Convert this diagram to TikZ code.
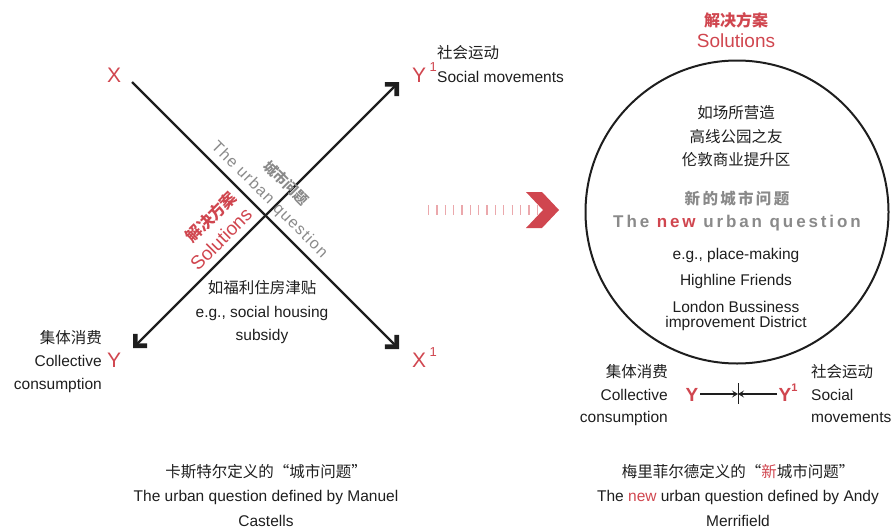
\documentclass[tikz,border=0pt]{standalone}
\usepackage{fontspec}
\setmainfont{Liberation Sans}
\newfontfamily\cjk{Noto Sans CJK SC}
\usetikzlibrary{arrows.meta}
\definecolor{accent}{HTML}{D0464F}
\definecolor{txtgray}{HTML}{8A8A8A}
\definecolor{ink}{HTML}{1E1E1E}
\definecolor{tickpink}{HTML}{EBA8AC}
\newcommand\supone[1][13]{\,\raisebox{0.52em}{\fontsize{#1}{#1}\selectfont 1}}
\begin{document}
\begin{tikzpicture}[x=1pt,y=-1pt,
  lbl/.style={font=\fontsize{15.5}{18}\selectfont, text=ink, inner sep=0pt},
  zh/.style={font=\cjk\fontsize{15.5}{18}\selectfont, text=ink, inner sep=0pt},
  axislbl/.style={font=\fontsize{21}{24}\selectfont, text=accent, inner sep=0pt},
  axisline/.style={line width=2.3pt, draw=ink},
  pics/chevron/.style={code={\fill[ink] (0,0) -- (-10,-10) -- (-13.3,-6.7) -- (-6.6,0) -- (-13.3,6.7) -- (-10,10) -- cycle;}},
]
\useasboundingbox (0,0) rectangle (893,530);

% ---------- left diagram ----------
\coordinate (xs) at (132,82);
\coordinate (xe) at (399,349);
\coordinate (ys) at (133,348);
\coordinate (ye) at (399,82);
\draw[axisline, shorten >=6pt] (xs) -- (xe);
\draw[axisline, shorten >=6pt, shorten <=6pt] (ys) -- (ye);
\pic[rotate=45] at (ye) {chevron};
\pic[rotate=-45] at (xe) {chevron};
\pic[rotate=-135] at (ys) {chevron};

\node[axislbl, anchor=base west] (lx) at (107,82) {X};
\node[axislbl, anchor=base west] (ly1) at (412,82) {Y\supone};
\node[axislbl, anchor=base west] (lx1) at (412,367) {X\supone};
\node[axislbl, anchor=base west] (ly) at (107,367) {Y};

\node[zh, anchor=west] (lsoczh) at (437,53) {社会运动};
\node[lbl, anchor=west] (lsocen) at (437,77) {Social movements};
\node[zh, anchor=east] (lcolzh) at (102,338) {集体消费};
\node[lbl, anchor=east] (lcolen1) at (102,361) {Collective};
\node[lbl, anchor=east] (lcolen2) at (102,385) {consumption};

\node[font=\fontsize{16}{18}\selectfont\addfontfeature{LetterSpace=8}, text=txtgray, rotate=-45, inner sep=0pt] (luq) at (269,200) {The urban question};
\node[font=\cjk\bfseries\fontsize{14}{16}\selectfont, text=txtgray, rotate=-45, inner sep=0pt] (luqzh) at (286,183) {城市问题};
\node[font=\cjk\bfseries\fontsize{16}{18}\selectfont, text=accent, rotate=45, inner sep=0pt] (lsolzh) at (211,217) {解决方案};
\node[font=\fontsize{19}{21}\selectfont, text=accent, rotate=45, inner sep=0pt] (lsolen) at (221,239) {Solutions};

\node[zh] (lhzh) at (262,288) {如福利住房津贴};
\node[lbl] (lh1) at (262,313) {e.g., social housing};
\node[lbl] (lh2) at (262,336) {subsidy};

% ---------- middle arrow ----------
\coordinate (ms) at (428,210);
\coordinate (me) at (540,210);
\draw[tickpink, line width=10pt, dash pattern=on 1.3pt off 7.05pt] (ms) -- (me);
\fill[accent] (526,192) -- (542,192) -- (559,210) -- (542,228) -- (526,228) -- (543,210) -- cycle;

% ---------- right diagram ----------
\node[font=\cjk\bfseries\fontsize{16}{18}\selectfont, text=accent, inner sep=0pt] (rsolzh) at (736,20) {解决方案};
\node[font=\fontsize{19}{21}\selectfont, text=accent, inner sep=0pt] (rsolen) at (736,41) {Solutions};

\node[circle, draw=ink, line width=2pt, minimum size=303pt, inner sep=0pt] (circ) at (737,212) {};

\node[zh] (r1) at (736,113) {如场所营造};
\node[zh] (r2) at (736,137) {高线公园之友};
\node[zh] (r3) at (736,160) {伦敦商业提升区};
\node[font=\cjk\bfseries\fontsize{15.5}{18}\selectfont\addfontfeature{LetterSpace=15}, text=txtgray, inner sep=0pt] (rnqzh) at (737,199) {新的城市问题};
\node[font=\fontsize{17}{20}\selectfont\bfseries\addfontfeature{LetterSpace=17}, text=txtgray, inner sep=0pt] (rnq) at (737,223) {The \textcolor{accent}{new} urban question};
\node[lbl] (r4) at (736,255) {e.g., place-making};
\node[lbl] (r5) at (736,281) {Highline Friends};
\node[lbl] (r6) at (736,307) {London Bussiness};
\node[lbl] (r7) at (736,323) {improvement District};

\node[zh, anchor=east] (rcolzh) at (668,372) {集体消费};
\node[lbl, anchor=east] (rcol1) at (668,395) {Collective};
\node[lbl, anchor=east] (rcol2) at (668,418) {consumption};
\node[zh, anchor=west] (rsoczh) at (811,372) {社会运动};
\node[lbl, anchor=west] (rsoc1) at (811,395) {Social};
\node[lbl, anchor=west] (rsoc2) at (811,418) {movements};

\node[font=\bfseries\fontsize{19}{21}\selectfont, text=accent, inner sep=1.5pt, anchor=base] (ry) at (692,401) {Y};
\node[font=\bfseries\fontsize{19}{21}\selectfont, text=accent, inner sep=1.5pt, anchor=base west] (ry1) at (777,401) {Y\raisebox{0.5em}{\fontsize{11}{11}\selectfont 1}};
\coordinate (mid) at (738,394);
\draw[line width=1.1pt, ink, -{Stealth[length=6pt,width=7pt,inset=2.5pt]}] (ry.east |- mid) -- (mid);
\draw[line width=1.1pt, ink, -{Stealth[length=6pt,width=7pt,inset=2.5pt]}] (ry1.west |- mid) -- (mid);
\draw[line width=1pt, ink] (738,383) -- (738,404);

% ---------- captions ----------
\node[zh] (capl1) at (266,472) {卡斯特尔定义的“城市问题”};
\node[lbl] (capl2) at (266,497) {The urban question defined by Manuel};
\node[lbl] (capl3) at (266,521) {Castells};
\node[zh] (capr1) at (738,472) {梅里菲尔德定义的“\textcolor{accent}{新}城市问题”};
\node[lbl] (capr2) at (738,497) {The \textcolor{accent}{new} urban question defined by Andy};
\node[lbl] (capr3) at (738,521) {Merrifield};
\end{tikzpicture}
\end{document}
